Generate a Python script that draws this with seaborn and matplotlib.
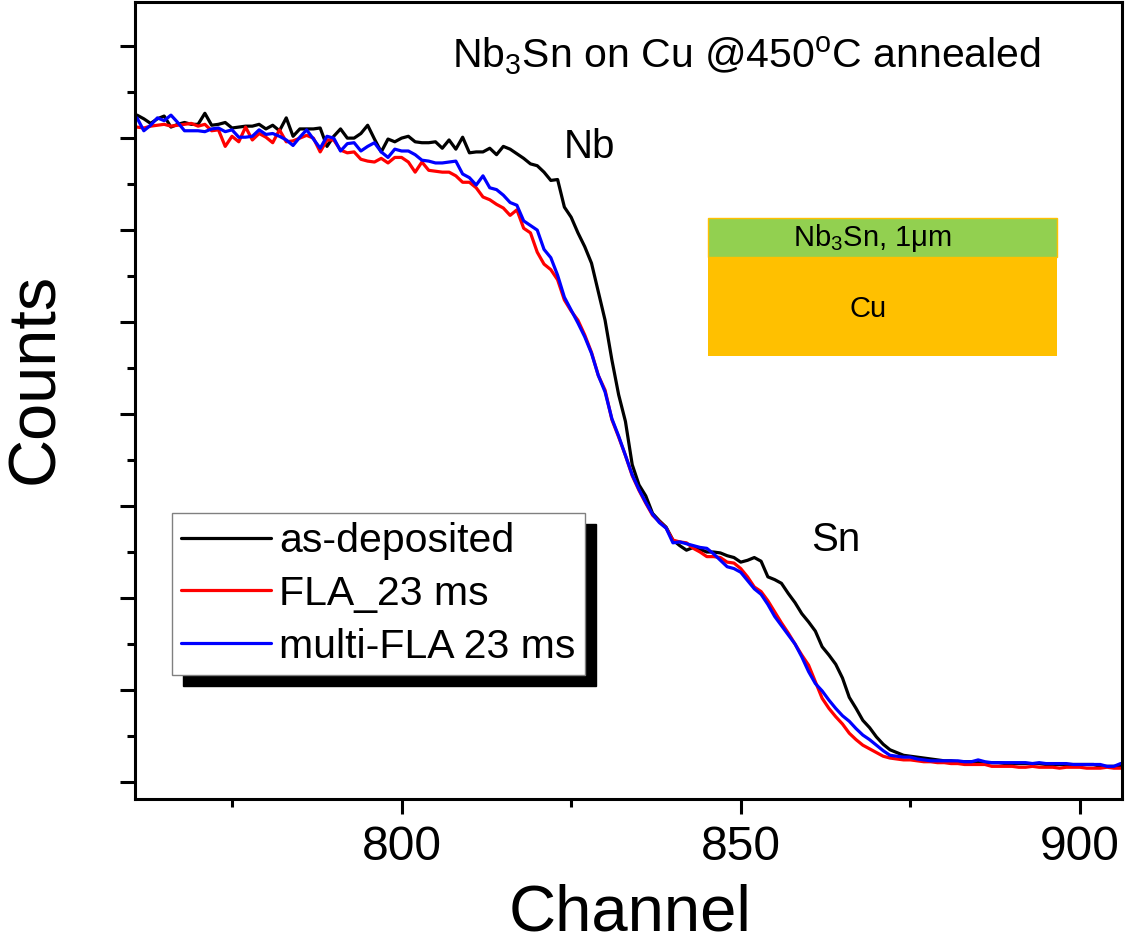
import numpy as np
import pandas as pd
import matplotlib
matplotlib.use("Agg")
import matplotlib.pyplot as plt
import seaborn as sns
from matplotlib.lines import Line2D
from matplotlib.patches import Rectangle
from matplotlib.ticker import MultipleLocator

# RBS spectra, counts per channel
channel = np.arange(761, 908)

as_deposited = [
    7250, 7210, 7160, 7210, 7240, 7120, 7150, 7170, 7150, 7150,
    7270, 7140, 7150, 7170, 7110, 7120, 7130, 7130, 7150, 7100,
    7140, 7080, 7220, 7020, 7100, 7100, 7100, 7110, 6910, 7020,
    7100, 7000, 7000, 7050, 7140, 6990, 6850, 6990, 6960, 7000,
    7020, 6960, 6950, 6950, 6960, 6890, 6980, 6880, 7010, 6840,
    6850, 6850, 6890, 6820, 6910, 6880, 6830, 6780, 6720, 6700,
    6630, 6540, 6550, 6250, 6140, 5970, 5820, 5640, 5330, 5020,
    4590, 4210, 3920, 3450, 3230, 3110, 2920, 2840, 2770, 2630,
    2570, 2520, 2550, 2530, 2500, 2500, 2490, 2460, 2440, 2390,
    2410, 2440, 2400, 2230, 2200, 2160, 2050, 1950, 1830, 1740,
    1640, 1470, 1380, 1280, 1130, 920, 800, 670, 590, 490,
    410, 350, 320, 290, 280, 270, 260, 250, 240, 230,
    230, 220, 220, 220, 220, 210, 210, 210, 200, 200,
    200, 200, 200, 200, 190, 190, 190, 190, 190, 190,
    190, 190, 170, 170, 170, 170, 170,
]

fla_23ms = [
    7120, 7110, 7130, 7140, 7150, 7130, 7140, 7150, 7160, 7130,
    7150, 7080, 7090, 6910, 7020, 6960, 7120, 6980, 7050, 7010,
    6950, 7090, 6960, 6970, 7000, 7030, 7000, 6850, 6980, 6980,
    6870, 6840, 6850, 6770, 6750, 6740, 6780, 6730, 6790, 6790,
    6740, 6630, 6740, 6650, 6640, 6630, 6630, 6590, 6520, 6520,
    6460, 6360, 6330, 6280, 6240, 6160, 6220, 6020, 5970, 5760,
    5630, 5570, 5460, 5240, 5120, 5020, 4860, 4670, 4420, 4260,
    3940, 3750, 3550, 3330, 3170, 3030, 2900, 2830, 2760, 2630,
    2610, 2600, 2540, 2500, 2450, 2450, 2440, 2390, 2380, 2320,
    2230, 2120, 2070, 1970, 1850, 1730, 1620, 1500, 1380, 1270,
    1090, 910, 800, 710, 630, 530, 460, 400, 360, 320,
    280, 260, 250, 240, 240, 230, 220, 220, 210, 210,
    200, 200, 190, 190, 190, 190, 170, 170, 170, 170,
    160, 160, 170, 160, 160, 160, 150, 160, 160, 160,
    150, 150, 150, 160, 150, 150, 150,
]

multi_fla_23ms = [
    7220, 7080, 7140, 7220, 7190, 7250, 7170, 7080, 7080, 7080,
    7070, 7100, 7110, 7070, 7090, 7010, 7010, 7020, 7090, 7040,
    7050, 7020, 6980, 6920, 7010, 7090, 6990, 6890, 7020, 7000,
    6860, 6940, 6950, 6860, 6910, 6950, 6850, 6790, 6880, 6860,
    6860, 6820, 6760, 6750, 6730, 6730, 6740, 6750, 6610, 6570,
    6490, 6590, 6460, 6440, 6380, 6300, 6270, 6100, 6050, 6000,
    5790, 5700, 5510, 5270, 5130, 4990, 4840, 4660, 4420, 4240,
    3950, 3760, 3550, 3340, 3180, 3040, 2910, 2820, 2760, 2600,
    2610, 2590, 2570, 2550, 2540, 2480, 2410, 2340, 2320, 2280,
    2190, 2100, 2040, 1930, 1800, 1700, 1600, 1500, 1360, 1200,
    1070, 990, 890, 800, 720, 660, 580, 510, 460, 400,
    340, 290, 280, 270, 270, 250, 240, 230, 230, 230,
    230, 230, 220, 220, 240, 220, 210, 210, 210, 210,
    210, 210, 200, 210, 200, 200, 200, 200, 190, 190,
    190, 190, 190, 170, 170, 200, 210,
]

series_names = ["as-deposited", "FLA_23 ms", "multi-FLA 23 ms"]
series_colors = ["#000000", "#FF0000", "#0000FF"]

sns.set_theme(style="ticks")
plt.rcParams["font.family"] = ["Liberation Sans", "DejaVu Sans"]
plt.rcParams["text.color"] = "black"
plt.rcParams["mathtext.fontset"] = "custom"
plt.rcParams["mathtext.rm"] = "Liberation Sans"
plt.rcParams["mathtext.it"] = "Liberation Sans:italic"
plt.rcParams["mathtext.bf"] = "Liberation Sans:bold"

df = pd.DataFrame({
    "Channel": np.tile(channel, 3),
    "Counts": np.concatenate([as_deposited, fla_23ms, multi_fla_23ms]),
    "Sample": np.repeat(series_names, len(channel)),
})

fig = plt.figure(figsize=(11.25, 9.47), dpi=100)
ax = fig.add_axes([0.12, 0.1563, 0.8773, 0.8416])

sns.lineplot(
    data=df, x="Channel", y="Counts", hue="Sample",
    hue_order=series_names, palette=dict(zip(series_names, series_colors)),
    estimator=None, sort=False, linewidth=2.3, ax=ax, legend=False,
)

ax.set_xlim(760.7, 906.2)
ax.set_ylim(-185, 8480)
ax.xaxis.set_major_locator(MultipleLocator(50))
ax.xaxis.set_minor_locator(MultipleLocator(25))
ax.yaxis.set_major_locator(MultipleLocator(1000))
ax.yaxis.set_minor_locator(MultipleLocator(500))
ax.tick_params(which="major", direction="out", length=10.8, width=2.2,
               labelsize=34.5, pad=8, color="black", labelcolor="black")
ax.tick_params(which="minor", direction="out", length=5.8, width=2.2, color="black")
ax.tick_params(axis="y", which="both", labelleft=False)
ax.tick_params(top=False, right=False)
for sp in ax.spines.values():
    sp.set_visible(True)
    sp.set_linewidth(2.2)
    sp.set_color("black")
ax.set_xlabel("")
ax.set_ylabel("")

fig.text(630 / 1125, 1 - 930 / 947, "Channel", ha="center", va="baseline",
         fontsize=47, color="black")
fig.text(36 / 1125, 1 - 378 / 947, "Counts", ha="center", va="center",
         rotation=90, fontsize=48, color="black")

# annotations
ax.text(0.321, 0.917, r"Nb$_3$Sn on Cu @450$^{\rm o}$C annealed",
        transform=ax.transAxes, fontsize=29.5, ha="left", va="baseline",
        color="black")
ax.text(0.461, 0.818, "Nb", transform=ax.transAxes, fontsize=29,
        ha="center", va="center", color="black")
ax.text(0.710, 0.325, "Sn", transform=ax.transAxes, fontsize=29,
        ha="center", va="center", color="black")

# layer sketch: Nb3Sn film on Cu substrate
ax.add_patch(Rectangle((0.5805, 0.5558), 0.3536, 0.1242, transform=ax.transAxes,
                       facecolor="#FFC000", edgecolor="none", zorder=3))
ax.add_patch(Rectangle((0.5805, 0.680), 0.3536, 0.049, transform=ax.transAxes,
                       facecolor="#92D050", edgecolor="#FFC000", linewidth=1.0,
                       zorder=3))
ax.text(0.5805 + 0.3536 / 2 - 0.01, 0.7045, "Nb$_3$Sn, 1μm", transform=ax.transAxes,
        fontsize=21, ha="center", va="center", zorder=4, color="black")
ax.text(0.5805 + 0.3536 / 2 - 0.015, 0.615, "Cu", transform=ax.transAxes,
        fontsize=21, ha="center", va="center", zorder=4, color="black")

handles = [Line2D([], [], color=c, lw=2.3) for c in series_colors]
leg = ax.legend(
    handles, series_names, loc="upper left", bbox_to_anchor=(0.0375, 0.3588),
    borderaxespad=0, fontsize=29.5, frameon=True, fancybox=False,
    edgecolor="#808080", framealpha=1, handlelength=2.2, handletextpad=0.2,
    labelspacing=0.36, borderpad=0.22,
    shadow={"ox": 8, "oy": -8, "facecolor": "black", "edgecolor": "black", "alpha": 1},
)
leg.get_frame().set_linewidth(1.0)
for t in leg.get_texts():
    t.set_color("black")

fig.savefig("out.png", dpi=100, facecolor="white")
